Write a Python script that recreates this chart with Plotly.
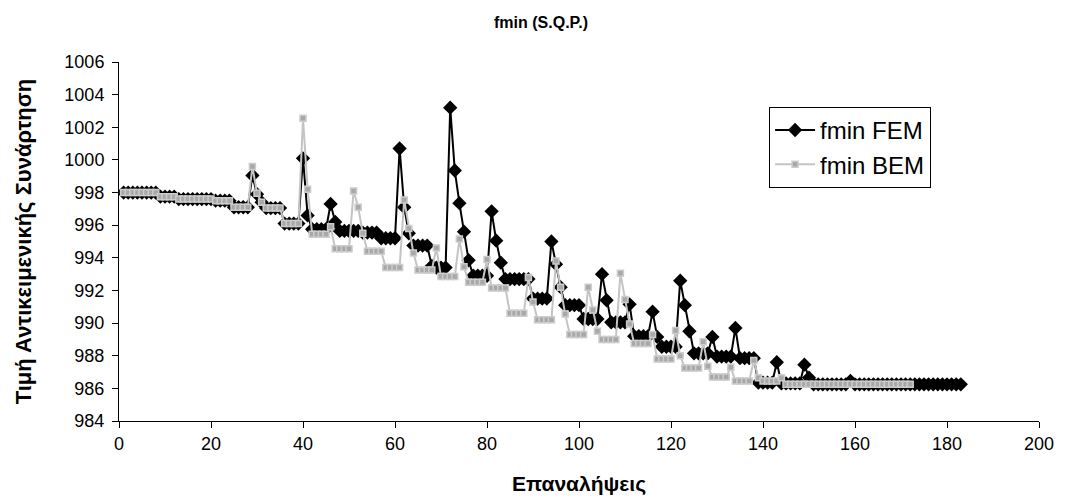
import plotly.graph_objects as go

# Objective-function value at each SQP function evaluation
fmin_fem = [
    998.0, 998.0, 998.0, 998.0, 998.0, 998.0, 998.0, 998.0,
    997.75, 997.75, 997.75, 997.75,
    997.6, 997.6, 997.6, 997.6, 997.6, 997.6, 997.6, 997.6,
    997.5, 997.5, 997.5, 997.5,
    997.1, 997.1, 997.1, 997.1,
    999.05, 997.9, 997.4,
    997.05, 997.05, 997.05, 997.05,
    996.1, 996.1, 996.1, 996.1,
    1000.1, 996.6,
    995.75, 995.75, 995.75, 995.75,
    997.3, 996.2,
    995.65, 995.65, 995.65, 995.65, 995.65,
    995.55, 995.55, 995.55, 995.55,
    995.2, 995.2, 995.2, 995.2,
    1000.7, 997.1, 995.5,
    994.75, 994.75, 994.75, 994.75,
    993.5,
    993.4, 993.4, 993.4,
    1003.2, 999.35, 997.35, 995.6, 993.85,
    992.9, 992.9, 992.9, 992.9,
    996.85, 995.05, 993.7,
    992.7, 992.7, 992.7, 992.7, 992.7, 992.7,
    991.5, 991.5, 991.5, 991.5,
    995.0, 993.6, 992.2,
    991.1, 991.1, 991.1, 991.1,
    990.25, 990.25, 990.25, 990.25,
    993.0, 991.4,
    990.05, 990.05, 990.05, 990.05,
    991.15,
    989.2, 989.2, 989.2, 989.2,
    990.7, 989.15,
    988.55, 988.55, 988.55, 988.55,
    992.6, 991.1, 989.5,
    988.15, 988.15, 988.15, 988.15,
    989.15,
    987.95, 987.95, 987.95, 987.95,
    989.7,
    987.85, 987.85, 987.85, 987.85,
    986.35, 986.35, 986.35, 986.35,
    987.6,
    986.3, 986.3, 986.3, 986.3, 986.3,
    987.45, 986.65,
    986.25, 986.25, 986.25, 986.25, 986.25, 986.25, 986.25, 986.25,
    986.45,
    986.25, 986.25, 986.25, 986.25, 986.25, 986.25, 986.25, 986.25,
    986.25, 986.25, 986.25, 986.25, 986.25, 986.25, 986.25, 986.25,
    986.25, 986.25, 986.25, 986.25, 986.25, 986.25, 986.25, 986.25,
]

fmin_bem = [
    998.0, 998.0, 998.0, 998.0, 998.0, 998.0, 998.0, 998.0,
    997.75, 997.75, 997.75, 997.75,
    997.6, 997.6, 997.6, 997.6, 997.6, 997.6, 997.6, 997.6,
    997.5, 997.5, 997.5, 997.5,
    997.1, 997.1, 997.1, 997.1,
    999.6, 997.95, 997.4,
    997.05, 997.05, 997.05, 997.05,
    996.1, 996.1, 996.1, 996.1,
    1002.55, 998.2,
    995.45, 995.45, 995.45, 995.45,
    995.9,
    994.55, 994.55, 994.55, 994.55,
    998.1, 997.1, 995.5,
    994.4, 994.4, 994.4, 994.4,
    993.4, 993.4, 993.4, 993.4,
    997.55, 995.8, 994.3,
    993.25, 993.25, 993.25, 993.25,
    994.6,
    992.85, 992.85, 992.85, 992.85,
    995.15, 993.45,
    992.5, 992.5, 992.5, 992.5,
    993.9,
    992.15, 992.15, 992.15, 992.15,
    990.6, 990.6, 990.6, 990.6,
    992.8, 991.3,
    990.2, 990.2, 990.2, 990.2,
    993.8, 992.2, 990.55,
    989.3, 989.3, 989.3, 989.3,
    992.2, 990.8, 989.5,
    989.0, 989.0, 989.0, 989.0,
    993.05, 991.45, 989.95,
    988.75, 988.75, 988.75, 988.75,
    989.3,
    987.8, 987.8, 987.8, 987.8,
    989.55, 988.0,
    987.25, 987.25, 987.25, 987.25,
    988.85, 987.35,
    986.7, 986.7, 986.7, 986.7,
    987.3,
    986.45, 986.45, 986.45, 986.45,
    987.7, 986.65,
    986.45, 986.45, 986.45, 986.45,
    986.65,
    986.25, 986.25, 986.25, 986.25, 986.25, 986.25, 986.25,
    986.25, 986.25, 986.25, 986.25, 986.25, 986.25, 986.25,
    986.25, 986.25, 986.25, 986.25, 986.25, 986.25, 986.25,
    986.25, 986.25, 986.25, 986.25, 986.25, 986.25, 986.25,
]

iter_fem = list(range(1, len(fmin_fem) + 1))
iter_bem = list(range(1, len(fmin_bem) + 1))

x_ticks = [0, 20, 40, 60, 80, 100, 120, 140, 160, 180, 200]
y_ticks = [984, 986, 988, 990, 992, 994, 996, 998, 1000, 1002, 1004, 1006]

FONT = "Arial, Liberation Sans, sans-serif"

fig = go.Figure()
fig.add_trace(go.Scatter(
    x=iter_fem, y=fmin_fem, name="fmin FEM", mode="lines+markers",
    line=dict(color="#000000", width=2),
    marker=dict(symbol="diamond", size=11, color="#000000"),
))
fig.add_trace(go.Scatter(
    x=iter_bem, y=fmin_bem, name="fmin BEM", mode="lines+markers",
    line=dict(color="#c4c4c4", width=2),
    marker=dict(symbol="square", size=6, color="#a8a8a8",
                line=dict(color="#cccccc", width=1.5)),
))

axis_common = dict(
    showline=True, linecolor="#000000", linewidth=1,
    ticks="outside", ticklen=6, tickcolor="#000000", tickwidth=1,
    showgrid=False, zeroline=False,
    tickfont=dict(family=FONT, size=18, color="#000000"),
)

fig.update_layout(
    width=1066, height=499,
    margin=dict(l=119, r=20, t=62, b=78),
    paper_bgcolor="#ffffff", plot_bgcolor="#ffffff",
    showlegend=True,
    title=dict(text="<b>fmin (S.Q.P.)</b>", x=0.5075, xref="container",
               y=1 - 22 / 499, yref="container", yanchor="middle", xanchor="center",
               font=dict(family=FONT, size=16, color="#000000")),
    xaxis=dict(range=[0, 200], tickvals=x_ticks, **axis_common),
    yaxis=dict(range=[984, 1006], tickvals=y_ticks, ticklabelstandoff=4, **axis_common),
    legend=dict(x=0.7066, y=0.875, xanchor="left", yanchor="top",
                bordercolor="#000000", borderwidth=1, bgcolor="#ffffff",
                font=dict(family=FONT, size=24, color="#000000"),
                itemwidth=40, tracegroupgap=0),
    annotations=[
        dict(text="<b>Επαναλήψεις</b>", xref="paper", yref="paper",
             x=0.5, y=-0.175, xanchor="center", yanchor="middle", showarrow=False,
             font=dict(family=FONT, size=21, color="#000000")),
        dict(text="<b>Τιμή Αντικειμενικής Συνάρτηση</b>", xref="paper", yref="paper",
             x=-0.1035, y=0.5, xanchor="center", yanchor="middle", showarrow=False,
             textangle=-90, font=dict(family=FONT, size=22, color="#000000")),
    ],
)

fig.write_html("out.html")
